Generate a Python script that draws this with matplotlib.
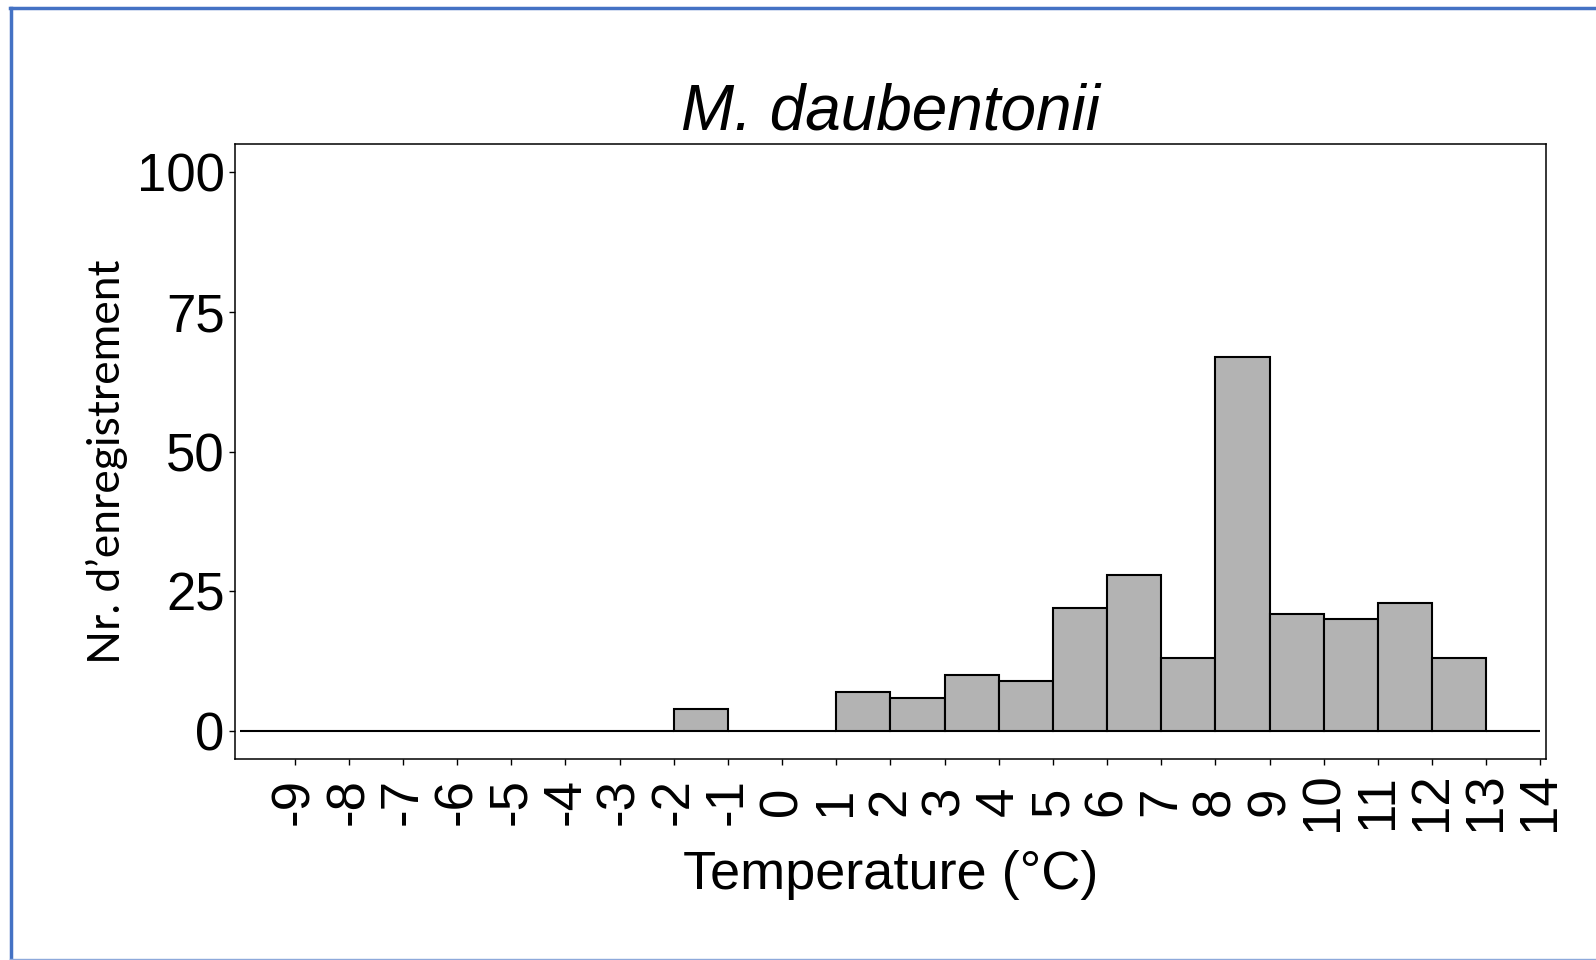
import matplotlib.pyplot as plt
from matplotlib.lines import Line2D

# histogram bins of 1 degree, left edges -10 .. 13
bin_left = list(range(-10, 14))
counts = [0, 0, 0, 0, 0, 0, 0, 0, 4, 0, 0,
          7, 6, 10, 9, 22, 28, 13, 67, 21, 20, 23, 13, 0]
xtick_vals = list(range(-9, 15))
ytick_vals = [0, 25, 50, 75, 100]

title = "M. daubentonii"
xlab = "Temperature (°C)"
ylab = "Nr. d\u2019enregistrement"

plt.rcParams['font.family'] = ['Liberation Sans', 'DejaVu Sans']

fig = plt.figure(figsize=(15.96, 9.6), dpi=100)
ax = fig.add_axes([0.1472, 0.2094, 0.8214, 0.6401])

ax.bar(bin_left, counts, width=1, align='edge', color='#b3b3b3',
       edgecolor='black', linewidth=1.5)

ax.set_xlim(-10.1, 14.1)
ax.set_ylim(-5, 105)
ax.set_xticks(xtick_vals)
ax.set_xticklabels([str(v) for v in xtick_vals], rotation=90, va='center', ha='center')
ax.set_yticks(ytick_vals)
ax.tick_params(axis='x', labelsize=38, length=4.5, width=1, pad=26)
ax.tick_params(axis='y', labelsize=38, length=4.5, width=1, pad=3)

for s in ax.spines.values():
    s.set_linewidth(1.1)

ax.set_title(title, fontsize=46, style='italic', pad=11)
ax.set_xlabel(xlab, fontsize=39, va='baseline')
ax.xaxis.set_label_coords(0.5, -0.2116)
ax.set_ylabel(ylab, fontsize=32, family=['Lato', 'DejaVu Sans'], va='center')
ax.yaxis.set_label_coords(-0.0976, 0.483)

# slide frame around the picture
blue = '#4472c4'
fig.add_artist(Line2D([10 / 1596, 1], [1 - 8 / 960, 1 - 8 / 960], color=blue, lw=2.5,
                      transform=fig.transFigure))
fig.add_artist(Line2D([10.5 / 1596, 10.5 / 1596], [1 - 8 / 960, 1 / 960], color=blue, lw=2.5,
                      transform=fig.transFigure))
fig.add_artist(Line2D([10 / 1596, 1], [1 / 960, 1 / 960], color='#8ea9db', lw=1,
                      transform=fig.transFigure))

fig.savefig("out.png", dpi=100)
